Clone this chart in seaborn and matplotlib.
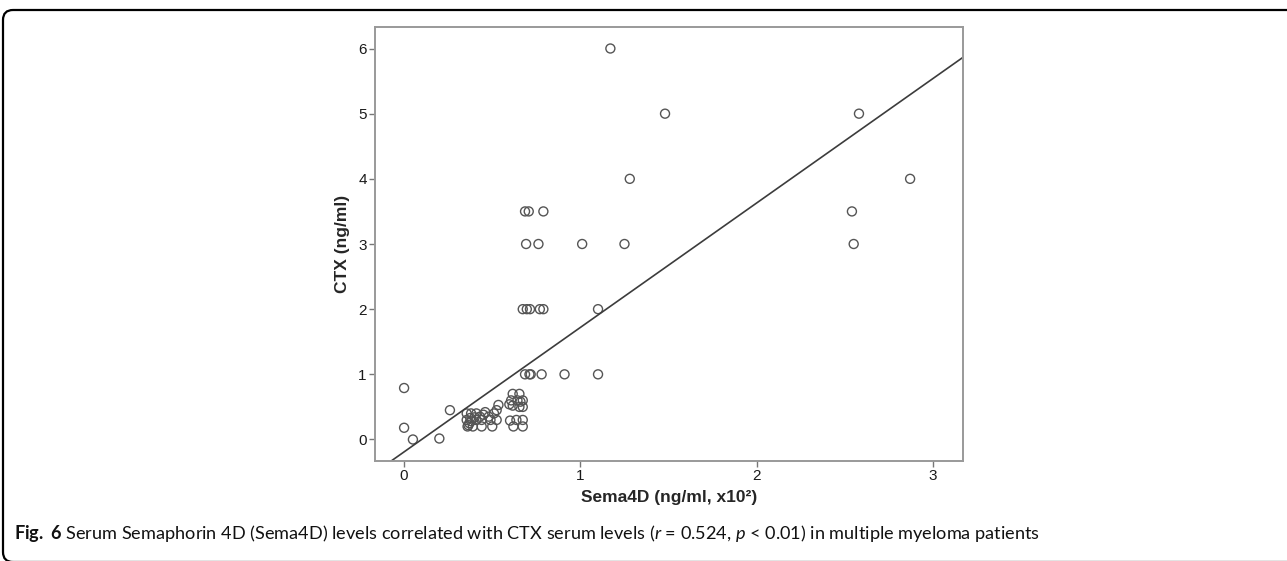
import numpy as np
import pandas as pd
import seaborn as sns
import matplotlib.pyplot as plt
from matplotlib.patches import FancyBboxPatch

# Sema4D (ng/ml, x10^2) vs CTX (ng/ml)
sema4d = [0.0, 0.0, 0.05, 0.2, 0.26,
          0.355, 0.38, 0.41, 0.46, 0.51, 0.535, 0.525,
          0.355, 0.38, 0.41, 0.44, 0.49, 0.525,
          0.36, 0.39, 0.44, 0.50,
          0.37, 0.375, 0.43, 0.45, 0.48, 0.40, 0.365,
          0.616, 0.654, 0.607, 0.643, 0.673, 0.597, 0.616, 0.654, 0.673,
          0.601, 0.637, 0.673, 0.62, 0.673, 0.66,
          0.686, 0.711, 0.718, 0.78, 0.91, 1.10,
          0.673, 0.696, 0.714, 0.77, 0.79, 1.10,
          0.692, 0.762, 1.01, 1.25, 2.55,
          0.686, 0.707, 0.79, 2.54,
          1.28, 2.87,
          1.48, 2.58,
          1.17]
ctx = [0.79, 0.18, 0.0, 0.015, 0.45,
       0.40, 0.40, 0.40, 0.42, 0.40, 0.53, 0.45,
       0.30, 0.28, 0.30, 0.30, 0.30, 0.30,
       0.20, 0.20, 0.20, 0.20,
       0.25, 0.33, 0.35, 0.38, 0.35, 0.34, 0.22,
       0.70, 0.70, 0.60, 0.60, 0.60, 0.54, 0.52, 0.50, 0.50,
       0.29, 0.30, 0.30, 0.20, 0.20, 0.58,
       1.0, 1.0, 1.0, 1.0, 1.0, 1.0,
       2.0, 2.0, 2.0, 2.0, 2.0, 2.0,
       3.0, 3.0, 3.0, 3.0, 3.0,
       3.5, 3.5, 3.5, 3.5,
       4.0, 4.0,
       5.0, 5.0,
       6.0]

# fitted line as drawn in the figure
fit_slope = 1.91
fit_intercept = -0.19

x_ticks = [0, 1, 2, 3]
y_ticks = [0, 1, 2, 3, 4, 5, 6]

df = pd.DataFrame({"sema4d": sema4d, "ctx": ctx})

sns.set_style("white")
plt.rcParams["font.family"] = ["Liberation Sans", "DejaVu Sans"]
plt.rcParams["mathtext.fontset"] = "custom"
plt.rcParams["mathtext.it"] = "Lato:italic"
plt.rcParams["mathtext.rm"] = "Lato"
plt.rcParams["mathtext.bf"] = "Lato:bold"

fig = plt.figure(figsize=(12.87, 5.61), dpi=100)
ax = fig.add_axes([375/1287, 1-461/561, (963-375)/1287, (461-27)/561])

sns.scatterplot(data=df, x="sema4d", y="ctx", ax=ax, marker="o", s=42,
                facecolors="none", edgecolor="#555555", linewidth=1.0)
ax.axline((0, fit_intercept), slope=fit_slope, color="#3c3c3c", lw=1.2)

ax.set_xlim(-0.165, 3.17)
ax.set_ylim(-0.33, 6.33)
ax.set_xticks(x_ticks)
ax.set_yticks(y_ticks)
ax.tick_params(axis="both", direction="out", length=4, width=1, color="#777777",
               labelsize=11, labelcolor="#1a1a1a", pad=2, bottom=True, left=True)
for sp in ax.spines.values():
    sp.set_color("#999999")
    sp.set_linewidth(1.4)

ax.set_xlabel("Sema4D (ng/ml, x10²)", fontsize=12.5, fontweight="bold", labelpad=5)
ax.set_ylabel("CTX (ng/ml)", fontsize=12.5, fontweight="bold", labelpad=6)

# rounded frame around the figure panel
frame = FancyBboxPatch((3, -1), 1400, 552, boxstyle="round,pad=0,rounding_size=10",
                       transform=None, fill=False, edgecolor="black", lw=1.6)
fig.patches.append(frame)

fig.text(14/1287, 1-534/561,
         r"$\bf{Fig.\ 6}$ Serum Semaphorin 4D (Sema4D) levels correlated with CTX serum levels "
         r"($\it{r}$ = 0.524, $\it{p}$ < 0.01) in multiple myeloma patients",
         fontsize=13.1, family="Lato", va="center", ha="left", color="#111111")

plt.savefig("out.png", dpi=100)
